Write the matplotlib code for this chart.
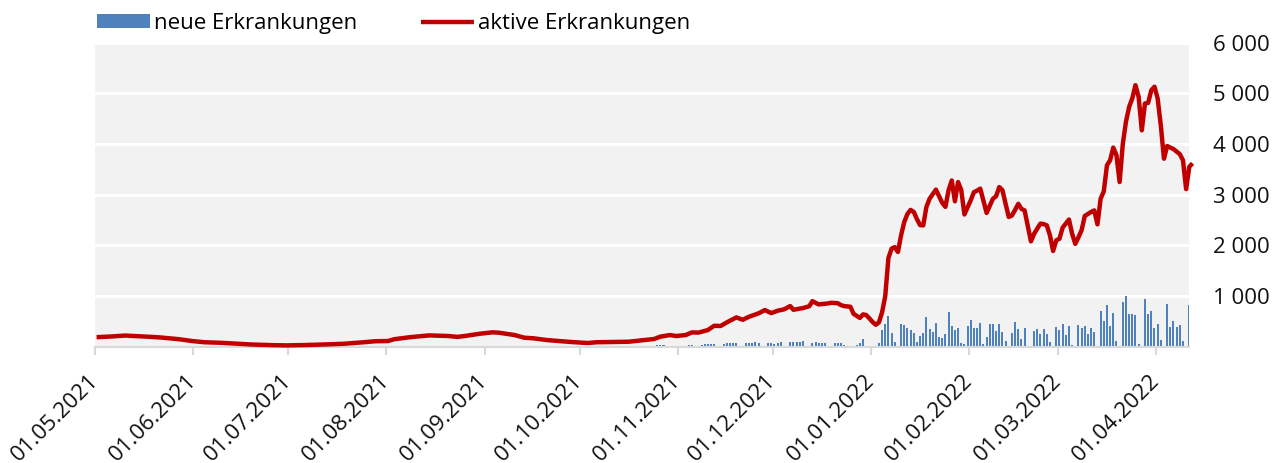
import matplotlib
matplotlib.use('Agg')
import matplotlib.pyplot as plt
import matplotlib.dates as mdates
from matplotlib.ticker import FuncFormatter
import pandas as pd

plt.rcParams['font.family'] = ['Open Sans', 'DejaVu Sans']

# aktive Erkrankungen 2021 (Stützpunkte)
line_dates_2021 = [
    '2021-05-01', '2021-05-06', '2021-05-10', '2021-05-17', '2021-05-21', '2021-05-27', '2021-05-31',
    '2021-06-04', '2021-06-09', '2021-06-14', '2021-06-19', '2021-06-26', '2021-06-30',
    '2021-07-06', '2021-07-13', '2021-07-18', '2021-07-24', '2021-07-28',
    '2021-08-01', '2021-08-03', '2021-08-08', '2021-08-14', '2021-08-20', '2021-08-23', '2021-08-26', '2021-08-30',
    '2021-09-03', '2021-09-05', '2021-09-10', '2021-09-13', '2021-09-16', '2021-09-20', '2021-09-24', '2021-09-28',
    '2021-10-03', '2021-10-06', '2021-10-11', '2021-10-16', '2021-10-21', '2021-10-24', '2021-10-26', '2021-10-29', '2021-10-31',
    '2021-11-03', '2021-11-05', '2021-11-07', '2021-11-10', '2021-11-12', '2021-11-14', '2021-11-16', '2021-11-19',
    '2021-11-21', '2021-11-23', '2021-11-26', '2021-11-28', '2021-11-30',
    '2021-12-02', '2021-12-04', '2021-12-06', '2021-12-07', '2021-12-10', '2021-12-12', '2021-12-13', '2021-12-15',
    '2021-12-18', '2021-12-19', '2021-12-21', '2021-12-22', '2021-12-23', '2021-12-25', '2021-12-26', '2021-12-28',
    '2021-12-29', '2021-12-30', '2021-12-31',
]
line_values_2021 = [
    190, 205, 222, 200, 185, 150, 115,
    90, 80, 62, 45, 32, 28,
    35, 48, 60, 88, 110,
    114, 150, 190, 225, 213, 195, 220, 258,
    285, 278, 232, 180, 167, 134, 114, 94,
    75, 90, 94, 100, 134, 154, 200, 232, 213,
    232, 285, 280, 330, 415, 410, 482, 580,
    533, 593, 660, 725, 665,
    711, 738, 803, 730, 764, 800, 900, 836,
    856, 868, 860, 823, 803, 790, 650, 570,
    640, 626, 560,
]

# aktive Erkrankungen ab 01.01.2022, täglich
line_start_2022 = '2022-01-01'
line_values_2022 = [
    490, 435, 480, 680, 1000, 1750, 1935, 1965, 1870, 2200,      # 01.01. - 10.01.
    2460, 2620, 2700, 2660, 2520, 2400, 2395, 2760, 2920, 3010,  # 11.01. - 20.01.
    3100, 2970, 2840, 2760, 3090, 3280, 2870, 3250, 3090, 2610,  # 21.01. - 30.01.
    2750, 2890, 3050, 3080, 3120, 2880, 2640, 2780, 2920, 2970,  # 31.01. - 09.02.
    3150, 3090, 2820, 2560, 2590, 2700, 2820, 2720, 2690, 2380,  # 10.02. - 19.02.
    2080, 2230, 2330, 2430, 2420, 2395, 2200, 1890, 2100, 2130,  # 20.02. - 01.03.
    2350, 2430, 2510, 2230, 2030, 2160, 2300, 2580, 2620, 2660,  # 02.03. - 11.03.
    2690, 2415, 2920, 3066, 3580, 3680, 3930, 3780, 3250, 4000,  # 12.03. - 21.03.
    4440, 4730, 4900, 5160, 4930, 4270, 4800, 4810, 5060, 5130,  # 22.03. - 31.03.
    4900, 4370, 3710, 3960, 3930, 3900, 3850, 3800, 3680, 3110,  # 01.04. - 10.04.
    3550, 3620,                                                  # 11.04. - 12.04.
]

# neue Erkrankungen 2021 (nur Tage mit Meldungen)
bar_dates_2021 = [
    '2021-05-06', '2021-05-10', '2021-05-18', '2021-05-21',
    '2021-08-02', '2021-08-06', '2021-08-09', '2021-08-12', '2021-08-13', '2021-08-17',
    '2021-08-23', '2021-08-24', '2021-08-25', '2021-08-26', '2021-08-27',
    '2021-08-30', '2021-08-31', '2021-09-01', '2021-09-02', '2021-09-04', '2021-09-07', '2021-09-08',
    '2021-09-14', '2021-09-15',
    '2021-10-19', '2021-10-22', '2021-10-25', '2021-10-26', '2021-10-27', '2021-10-28', '2021-10-29',
    '2021-11-01', '2021-11-03', '2021-11-04', '2021-11-05',
    '2021-11-08', '2021-11-09', '2021-11-10', '2021-11-11', '2021-11-12',
    '2021-11-15', '2021-11-16', '2021-11-17', '2021-11-18', '2021-11-19',
    '2021-11-22', '2021-11-23', '2021-11-24', '2021-11-25', '2021-11-26', '2021-11-27',
    '2021-11-29', '2021-11-30', '2021-12-01', '2021-12-02', '2021-12-03',
    '2021-12-06', '2021-12-07', '2021-12-08', '2021-12-09', '2021-12-10',
    '2021-12-13', '2021-12-14', '2021-12-15', '2021-12-16', '2021-12-17',
    '2021-12-20', '2021-12-21', '2021-12-22', '2021-12-23',
    '2021-12-27', '2021-12-28', '2021-12-29', '2021-12-30',
]
bar_values_2021 = [
    10, 12, 8, 10,
    12, 10, 14, 10, 12, 8,
    14, 12, 15, 12, 10,
    14, 12, 15, 10, 8, 10, 12,
    10, 8,
    7, 13, 27, 33, 27, 13, 13,
    13, 20, 27, 40,
    27, 47, 47, 47, 60,
    53, 73, 67, 67, 73,
    67, 73, 80, 93, 67, 20,
    80, 67, 53, 73, 100,
    87, 87, 87, 87, 120,
    73, 87, 80, 67, 73,
    80, 80, 67, 40,
    40, 73, 160, 25,
]

# neue Erkrankungen ab 01.01.2022, täglich
bar_start_2022 = '2022-01-01'
bar_values_2022 = [
    0, 0, 73, 333, 440, 600, 273, 87, 0, 447,            # 01.01. - 10.01.
    433, 367, 340, 280, 100, 207, 267, 587, 360, 300,    # 11.01. - 20.01.
    460, 193, 167, 260, 693, 420, 327, 380, 80, 53,      # 21.01. - 30.01.
    420, 533, 367, 370, 460, 53, 193, 440, 453, 313,     # 31.01. - 09.02.
    453, 293, 113, 0, 280, 493, 353, 160, 373, 20,       # 10.02. - 19.02.
    0, 313, 347, 260, 353, 260, 87, 0, 400, 327,         # 20.02. - 01.03.
    453, 227, 413, 33, 0, 433, 373, 405, 260, 367,       # 02.03. - 11.03.
    300, 0, 713, 507, 833, 407, 660, 113, 0, 893,        # 12.03. - 21.03.
    993, 653, 640, 620, 60, 0, 933, 640, 707, 380,       # 22.03. - 31.03.
    440, 133, 0, 847, 387, 513, 387, 433, 113, 0,        # 01.04. - 10.04.
    820,                                                 # 11.04.
]

y_ticks = [1000, 2000, 3000, 4000, 5000, 6000]

# Werte gelten jeweils für die Tagesmitte
half_day = pd.Timedelta(hours=12)
line_x = list(pd.to_datetime(line_dates_2021)) + \
    list(pd.date_range(line_start_2022, periods=len(line_values_2022), freq='D'))
line_x = pd.DatetimeIndex(line_x) + half_day
line_y = line_values_2021 + line_values_2022

bar_x = list(pd.to_datetime(bar_dates_2021)) + \
    list(pd.date_range(bar_start_2022, periods=len(bar_values_2022), freq='D'))
bar_x = pd.DatetimeIndex(bar_x) + half_day
bar_y = bar_values_2021 + bar_values_2022

fig = plt.figure(figsize=(12.82, 4.63), dpi=100)
ax = fig.add_axes([95 / 1282, 1 - 346.8 / 463, 1094.3 / 1282, 304.2 / 463])
ax.set_facecolor('#f2f2f2')

bars = ax.bar(bar_x, bar_y, width=0.65, color='#4f81bd', zorder=2, label='neue Erkrankungen')
line, = ax.plot(line_x, line_y, color='#c00000', linewidth=3.2, solid_joinstyle='round',
                solid_capstyle='butt', zorder=3, clip_on=False, label='aktive Erkrankungen')

ax.set_xlim(pd.Timestamp('2021-05-01'), pd.Timestamp('2022-04-11 12:00'))
ax.set_ylim(0, 6000)

# y-Achse rechts, Tausender mit Leerzeichen
ax.yaxis.tick_right()
ax.set_yticks(y_ticks)
ax.yaxis.set_major_formatter(FuncFormatter(lambda v, p: '{:,}'.format(int(v)).replace(',', ' ')))
ax.tick_params(axis='y', length=0, pad=17, labelsize=16, labelcolor='#111111')
ax.yaxis.grid(True, color='white', linewidth=2.2)
ax.set_axisbelow(True)

# x-Achse: Monatsanfänge
ax.xaxis.set_major_locator(mdates.MonthLocator())
ax.xaxis.set_major_formatter(mdates.DateFormatter('%d.%m.%Y'))
ax.tick_params(axis='x', length=6, width=1.5, color='#d9d9d9', labelsize=16, pad=16,
               labelcolor='#111111')
plt.setp(ax.get_xticklabels(), rotation=45, ha='right', va='center', rotation_mode='anchor')

for s in ['top', 'right', 'left']:
    ax.spines[s].set_visible(False)
ax.spines['bottom'].set_color('#d9d9d9')
ax.spines['bottom'].set_linewidth(1.5)

ax.legend(handles=[bars, line], loc='upper left', bbox_to_anchor=(97 / 1282, 1 - 13 / 463),
          bbox_transform=fig.transFigure, ncol=2, frameon=False, fontsize=16,
          handlelength=2.39, handleheight=0.6, handletextpad=0.18, columnspacing=2.85,
          borderpad=0, borderaxespad=0)

plt.savefig('out.png', dpi=100)
